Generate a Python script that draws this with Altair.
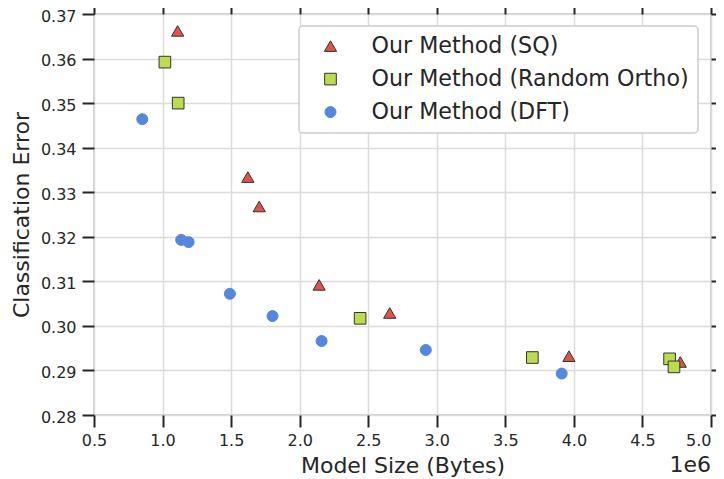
import altair as alt
import pandas as pd

# ---- data ----
sq_size = [1.110e6, 1.622e6, 1.705e6, 2.142e6, 2.657e6, 3.964e6, 4.776e6]
sq_err = [0.3662, 0.3334, 0.3268, 0.3092, 0.3029, 0.2932, 0.2919]

ro_size = [1.017e6, 1.114e6, 2.441e6, 3.697e6, 4.698e6, 4.730e6]
ro_err = [0.3592, 0.3500, 0.3017, 0.2929, 0.2926, 0.2908]

dft_size = [0.852e6, 1.136e6, 1.190e6, 1.491e6, 1.802e6, 2.160e6, 2.920e6, 3.911e6]
dft_err = [0.3464, 0.3193, 0.3188, 0.3072, 0.3022, 0.2966, 0.2946, 0.2893]

methods = ["Our Method (SQ)", "Our Method (Random Ortho)", "Our Method (DFT)"]
x_ticks = [0.5e6, 1.0e6, 1.5e6, 2.0e6, 2.5e6, 3.0e6, 3.5e6, 4.0e6, 4.5e6, 5.0e6]
y_ticks = [0.28, 0.29, 0.30, 0.31, 0.32, 0.33, 0.34, 0.35, 0.36, 0.37]

rows = []
for name, xs, ys in zip(methods, [sq_size, ro_size, dft_size], [sq_err, ro_err, dft_err]):
    for a, b in zip(xs, ys):
        rows.append({"size": a, "err": b, "method": name})
df = pd.DataFrame(rows)

W, H = 617, 401
FONT = "DejaVu Sans"
TXT = "#262626"
TITLE_Y = 57

xscale = alt.Scale(domain=[0.5e6, 5.0e6], nice=False, zero=False)
yscale = alt.Scale(domain=[0.28, 0.37], nice=False, zero=False)

tick_common = dict(domain=False, ticks=True, tickColor=TXT, tickWidth=2, tickSize=12)

ax_bottom = alt.Axis(values=x_ticks, labelExpr="format(datum.value / 1e6, '.1f')",
                     labelAlign={"condition": {"test": "datum.value >= 5000000", "value": "right"},
                                 "value": "center"},
                     title="Model Size (Bytes)", grid=True, orient="bottom",
                     labelPadding=5, titleX=W / 2, titleY=TITLE_Y, titleBaseline="alphabetic",
                     titleAlign="center", **tick_common)
ax_left = alt.Axis(values=y_ticks, format=".2f", title="Classification Error", grid=True,
                   orient="left", labelPadding=6, labelOffset=2, titleX=-66, titleY=H / 2,
                   titleBaseline="alphabetic", titleAlign="center", titleAngle=270,
                   **tick_common)
ax_top = alt.Axis(values=x_ticks, labels=False, title=None, grid=False, orient="top", **tick_common)
ax_right = alt.Axis(values=y_ticks, labels=False, title=None, grid=False, orient="right", **tick_common)

col_scale = alt.Scale(domain=methods, range=["#dc554b", "#bcdc50", "#5587e1"])
shape_scale = alt.Scale(domain=methods, range=["triangle-up", "square", "circle"])
stroke_scale = alt.Scale(domain=methods, range=["#333333", "#333333", "#5587e1"])
size_scale = alt.Scale(domain=methods, range=[150, 121, 160])

legend = alt.Legend(title=None, orient="none", legendX=205, legendY=12,
                    padding=9, symbolOffset=11.4, labelOffset=29.9, rowPadding=10,
                    labelFontSize=22.2, labelFont=FONT, labelColor=TXT, labelLimit=0,
                    fillColor="white", strokeColor="#cccccc",
                    cornerRadius=4, symbolStrokeWidth=1)

points = alt.Chart(df).mark_point(filled=True, opacity=1, strokeWidth=1).encode(
    x=alt.X("size:Q", scale=xscale, axis=ax_bottom),
    y=alt.Y("err:Q", scale=yscale, axis=ax_left),
    color=alt.Color("method:N", scale=col_scale, legend=legend, sort=methods),
    shape=alt.Shape("method:N", scale=shape_scale, legend=legend, sort=methods),
    stroke=alt.Stroke("method:N", scale=stroke_scale, legend=legend, sort=methods),
    size=alt.Size("method:N", scale=size_scale, legend=legend, sort=methods),
)

frame = alt.Chart(df).mark_point(opacity=0).encode(
    x=alt.X("size:Q", scale=xscale, axis=ax_top),
    y=alt.Y("err:Q", scale=yscale, axis=ax_right),
)

exp_label = alt.Chart(pd.DataFrame({"t": ["1e6"]})).mark_text(
    align="right", baseline="alphabetic", fontSize=22, font=FONT, color=TXT
).encode(text="t:N", x=alt.value(W), y=alt.value(H + TITLE_Y))

chart = alt.layer(points, frame, exp_label).resolve_axis(
    x="independent", y="independent"
).properties(
    width=W, height=H,
    autosize=alt.AutoSizeParams(type="none"),
    padding={"left": 86, "top": 6, "right": 5, "bottom": 64},
).configure_view(
    stroke="#d2d2d2", strokeWidth=2
).configure_axis(
    labelFont=FONT, labelFontSize=16, labelColor=TXT,
    titleFont=FONT, titleFontSize=22, titleColor=TXT, titleFontWeight="normal",
    gridColor="#dcdcdc", gridWidth=1.5,
).configure_legend(
    strokeWidth=1.5
)

chart.save("out.html", embed_options={"renderer": "svg", "actions": False})
